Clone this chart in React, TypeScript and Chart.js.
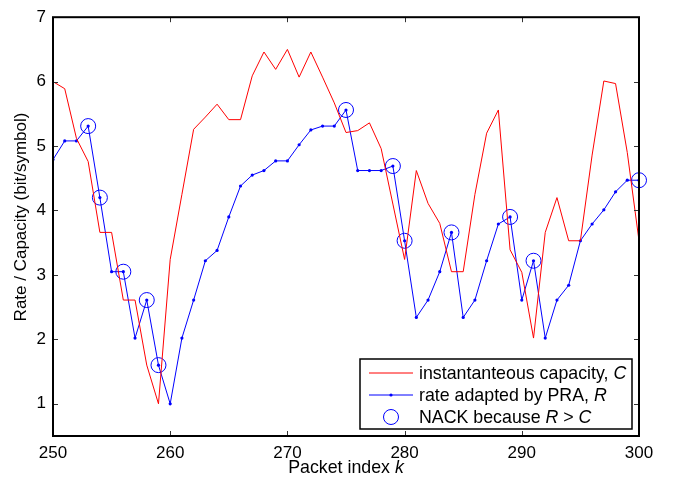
import React, { useEffect, useRef } from "react";
import { Chart, registerables } from "chart.js";

Chart.register(...registerables);

const packetIndex = [
  250, 251, 252, 253, 254, 255, 256, 257, 258, 259,
  260, 261, 262, 263, 264, 265, 266, 267, 268, 269,
  270, 271, 272, 273, 274, 275, 276, 277, 278, 279,
  280, 281, 282, 283, 284, 285, 286, 287, 288, 289,
  290, 291, 292, 293, 294, 295, 296, 297, 298, 299, 300,
];

const capacity = [
  6.0, 5.89, 5.12, 4.76, 3.66, 3.66, 2.61, 2.61, 1.6, 1.0,
  3.24, 4.25, 5.26, 5.45, 5.65, 5.41, 5.41, 6.09, 6.46, 6.19,
  6.5, 6.07, 6.46, 6.07, 5.67, 5.21, 5.24, 5.36, 4.96, 4.1,
  3.24, 4.62, 4.11, 3.8, 3.05, 3.05, 4.25, 5.2, 5.56, 3.39,
  3.04, 2.02, 3.66, 4.2, 3.53, 3.53, 4.86, 6.01, 5.97, 4.9, 3.53,
];

const rate = [
  4.79, 5.08, 5.08, 5.31, 4.2, 3.05, 3.05, 2.02, 2.61, 1.6,
  1.0, 2.02, 2.61, 3.22, 3.38, 3.9, 4.38, 4.55, 4.62, 4.77,
  4.77, 5.02, 5.25, 5.31, 5.31, 5.56, 4.62, 4.62, 4.62, 4.69,
  3.53, 2.34, 2.61, 3.05, 3.66, 2.34, 2.61, 3.22, 3.79, 3.9,
  2.61, 3.22, 2.02, 2.61, 2.84, 3.53, 3.79, 4.01, 4.29, 4.47, 4.47,
];

const nackIndex = [253, 254, 256, 258, 259, 275, 279, 280, 284, 289, 291, 300];

const xTicks = [250, 260, 270, 280, 290, 300];
const yTicks = [1, 2, 3, 4, 5, 6, 7];

const xTitle: [string, boolean][] = [["Packet index ", false], ["k", true]];
const yTitle = "Rate / Capacity (bit/symbol)";

const legendLabels: [string, boolean][][] = [
  [["instantanteous capacity, ", false], ["C", true]],
  [["rate adapted by PRA, ", false], ["R", true]],
  [["NACK because ", false], ["R", true], [" > ", false], ["C", true]],
];

const RED = "rgb(255,0,0)";
const BLUE = "rgb(0,0,255)";
const FONT = '"Liberation Sans", Arial, Helvetica, sans-serif';
const FS = 17;
const LFS = 17.8;

function drawSegments(ctx: CanvasRenderingContext2D, segs: [string, boolean][], x: number, y: number, align: "left" | "center", size: number) {
  let total = 0;
  const widths = segs.map(([t, it]) => {
    ctx.font = `${it ? "italic " : ""}${size}px ${FONT}`;
    const w = ctx.measureText(t).width;
    total += w;
    return w;
  });
  let cx = align === "center" ? x - total / 2 : x;
  ctx.textAlign = "left";
  segs.forEach(([t, it], i) => {
    ctx.font = `${it ? "italic " : ""}${size}px ${FONT}`;
    ctx.fillText(t, cx, y);
    cx += widths[i];
  });
}

const framePlugin = {
  id: "matlabFrame",
  afterDraw(chart: any) {
    const ctx: CanvasRenderingContext2D = chart.ctx;
    const { left, right, top, bottom } = chart.chartArea;
    const xs = chart.scales.x;
    const ys = chart.scales.y;
    ctx.save();
    ctx.strokeStyle = "#333";
    ctx.lineWidth = 1;
    const tl = 5;
    xTicks.forEach((v) => {
      const px = Math.round(xs.getPixelForValue(v)) + 0.5;
      ctx.beginPath();
      ctx.moveTo(px, bottom);
      ctx.lineTo(px, bottom - tl);
      ctx.moveTo(px, top);
      ctx.lineTo(px, top + tl);
      ctx.stroke();
    });
    yTicks.forEach((v) => {
      const py = Math.round(ys.getPixelForValue(v)) + 0.5;
      ctx.beginPath();
      ctx.moveTo(left, py);
      ctx.lineTo(left + tl, py);
      ctx.moveTo(right, py);
      ctx.lineTo(right - tl, py);
      ctx.stroke();
    });
    ctx.strokeStyle = "#000";
    ctx.lineWidth = 2;
    ctx.strokeRect(left, top, right - left, bottom - top);

    ctx.fillStyle = "#000";
    ctx.textBaseline = "middle";
    drawSegments(ctx, xTitle, (left + right) / 2, 468, "center", LFS);
    ctx.save();
    ctx.translate(21, 217);
    ctx.rotate(-Math.PI / 2);
    ctx.font = `${FS}px ${FONT}`;
    ctx.textAlign = "center";
    ctx.fillText(yTitle, 0, 0);
    ctx.restore();

    const lx = 360, ly = 359, lw = 272, lh = 70;
    ctx.fillStyle = "#fff";
    ctx.fillRect(lx, ly, lw, lh);
    ctx.strokeStyle = "#000";
    ctx.lineWidth = 1.5;
    ctx.strokeRect(lx, ly, lw, lh);
    const rows = [373, 395, 417];
    const sx0 = 369, sx1 = 413, sxm = 391;
    ctx.lineWidth = 1;
    ctx.strokeStyle = RED;
    ctx.beginPath();
    ctx.moveTo(sx0, rows[0]);
    ctx.lineTo(sx1, rows[0]);
    ctx.stroke();
    ctx.strokeStyle = BLUE;
    ctx.beginPath();
    ctx.moveTo(sx0, rows[1]);
    ctx.lineTo(sx1, rows[1]);
    ctx.stroke();
    ctx.fillStyle = BLUE;
    ctx.beginPath();
    ctx.arc(sxm, rows[1], 1.6, 0, Math.PI * 2);
    ctx.fill();
    ctx.beginPath();
    ctx.arc(sxm, rows[2], 7.5, 0, Math.PI * 2);
    ctx.stroke();
    ctx.fillStyle = "#000";
    legendLabels.forEach((segs, i) => {
      drawSegments(ctx, segs, 419, rows[i] + 1, "left", LFS);
    });
    ctx.restore();
  },
};

export default function App() {
  const ref = useRef<HTMLCanvasElement | null>(null);
  useEffect(() => {
    if (!ref.current) return;
    const capPts = packetIndex.map((k, i) => ({ x: k, y: capacity[i] }));
    const ratePts = packetIndex.map((k, i) => ({ x: k, y: rate[i] }));
    const nackPts = nackIndex.map((k) => ({ x: k, y: rate[packetIndex.indexOf(k)] }));
    const chart = new Chart(ref.current, {
      type: "line",
      data: {
        datasets: [
          {
            label: "instantanteous capacity, C",
            data: capPts,
            borderColor: RED,
            borderWidth: 1,
            pointRadius: 0,
            tension: 0,
          },
          {
            label: "rate adapted by PRA, R",
            data: ratePts,
            borderColor: BLUE,
            backgroundColor: BLUE,
            borderWidth: 1,
            pointRadius: 1.6,
            pointBorderWidth: 0,
            tension: 0,
          },
          {
            label: "NACK because R > C",
            data: nackPts,
            showLine: false,
            borderColor: BLUE,
            backgroundColor: "rgba(0,0,0,0)",
            pointRadius: 7.5,
            pointBorderWidth: 1,
            clip: false as any,
          },
        ],
      },
      options: {
        responsive: false,
        animation: false,
        devicePixelRatio: 1,
        layout: { padding: { left: 0, top: 9, right: 42, bottom: 0 } },
        plugins: { legend: { display: false }, tooltip: { enabled: false } },
        scales: {
          x: {
            type: "linear",
            min: 250,
            max: 300,
            grid: { display: false, drawTicks: false },
            border: { display: false },
            afterBuildTicks: (s: any) => {
              s.ticks = xTicks.map((v) => ({ value: v }));
            },
            afterFit: (s: any) => {
              s.height = 49;
            },
            ticks: {
              color: "#000",
              font: { family: FONT, size: FS },
              padding: 7,
              maxRotation: 0,
              autoSkip: false,
            },
          },
          y: {
            type: "linear",
            min: 0.5,
            max: 7,
            grid: { display: false, drawTicks: false },
            border: { display: false },
            afterBuildTicks: (s: any) => {
              s.ticks = yTicks.map((v) => ({ value: v }));
            },
            afterFit: (s: any) => {
              s.width = 53;
            },
            ticks: {
              color: "#000",
              font: { family: FONT, size: FS },
              padding: 7,
              autoSkip: false,
            },
          },
        },
      },
      plugins: [framePlugin],
    });
    return () => chart.destroy();
  }, []);
  return (
    <div style={{ position: "fixed", left: 0, top: 0, width: 681, height: 485, background: "#fff" }}>
      <canvas ref={ref} width={681} height={485} />
    </div>
  );
}
